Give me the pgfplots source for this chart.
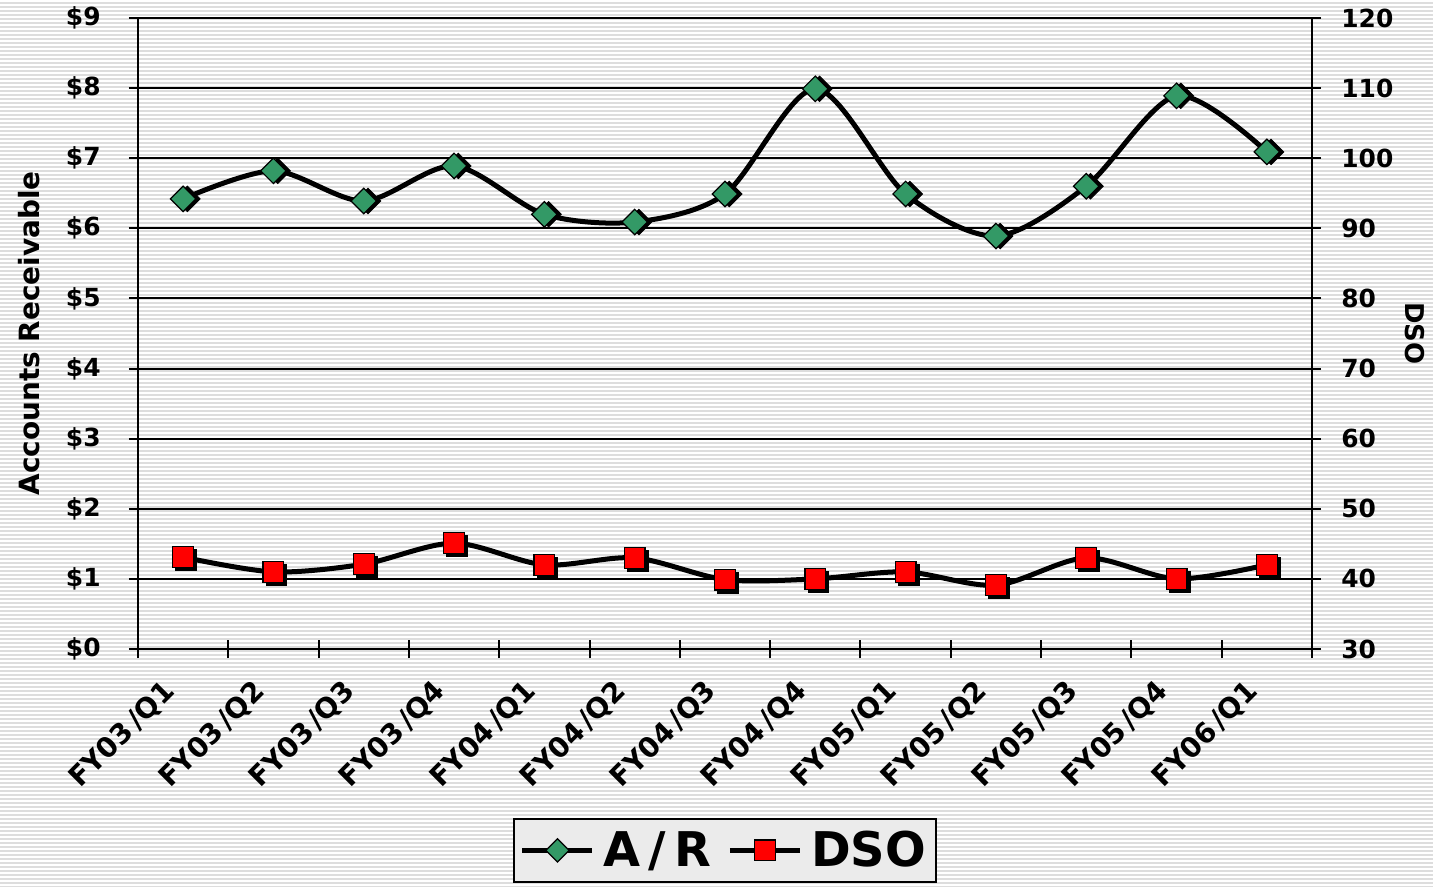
\documentclass[border=0pt]{standalone}
\usepackage{fontspec}
\setmainfont{DejaVu Sans}
\usepackage{pgfplots}
\pgfplotsset{compat=1.18}
\usetikzlibrary{patterns.meta}
\definecolor{argreen}{HTML}{339966}
\definecolor{stripe}{HTML}{DDDDDD}
\definecolor{leggray}{HTML}{EBEBEB}

\pgfplotstableread{
x ar dso
0 6.42 43.1
1 6.82 41.0
2 6.39 42.1
3 6.89 45.1
4 6.20 42.0
5 6.09 43.0
6 6.49 39.9
7 7.99 40.0
8 6.49 41.0
9 5.89 39.1
10 6.60 43.0
11 7.89 40.0
12 7.09 42.0
}\datatable

\newcommand{\qsl}{\kern2bp/}
\begin{document}
\begin{tikzpicture}
\fill[white] (-69bp,-119bp) rectangle (647.5bp,324.5bp);
\fill[pattern={Lines[angle=0,distance=2bp,line width=0.9bp]}, pattern color=stripe] (-69bp,-119bp) rectangle (647.5bp,324.5bp);
\begin{axis}[
  name=ax,
  scale only axis, width=587bp, height=315.5bp,
  at={(0,0)}, anchor=south west,
  xmin=-0.5, xmax=12.5, ymin=0, ymax=9,
  axis y line*=left, axis x line*=bottom,
  axis line style={black, line width=1bp},
  tick align=center,
  xtick={0,...,12},
  xticklabels={FY03\qsl Q1,FY03\qsl Q2,FY03\qsl Q3,FY03\qsl Q4,FY04\qsl Q1,FY04\qsl Q2,FY04\qsl Q3,FY04\qsl Q4,FY05\qsl Q1,FY05\qsl Q2,FY05\qsl Q3,FY05\qsl Q4,FY06\qsl Q1},
  minor xtick={-0.5,0.5,...,12.5},
  major x tick style={draw=none},
  minor x tick style={black, line width=1bp},
  minor tick length=9bp,
  major tick length=9bp,
  y tick style={black, line width=1bp},
  ytick={0,...,9},
  yticklabels={\$0,\$1,\$2,\$3,\$4,\$5,\$6,\$7,\$8,\$9},
  ymajorgrids, grid style={black, line width=1bp},
  xticklabel style={xshift=-11bp, yshift=-10bp, rotate=45, anchor=north east, inner sep=0pt, font=\fontsize{14}{16}\selectfont\bfseries},
  yticklabel style={anchor=east, inner sep=0pt, xshift=-14bp, font=\fontsize{12.5}{14}\selectfont\bfseries},
  every axis y label/.style={at={(axis description cs:-0.093,0.5)}, anchor=center, rotate=90, font=\fontsize{14}{16}\selectfont\bfseries},
  ylabel={Accounts Receivable},
  legend style={at={(0.5,-0.268)}, anchor=north, legend columns=2, fill=leggray, draw=black, line width=1bp,
    font=\fontsize{24}{28}\selectfont\bfseries, inner xsep=3bp, inner ysep=4bp,
    /tikz/every even column/.append style={column sep=6bp}},
  legend image code/.code={\draw[mark repeat=2,mark phase=2] plot coordinates {(0bp,0bp)(17.5bp,0bp)(35bp,0bp)};},
]
\addplot[black, line width=2.5bp, smooth, no markers, forget plot] table[x=x,y=ar]{\datatable};
\addplot[only marks, mark=square*, mark size=4.5bp, mark options={rotate=45, fill=black, draw=black, xshift=1.5bp, yshift=-1.5bp}, forget plot] table[x=x,y=ar]{\datatable};
\addplot[only marks, mark=square*, mark size=4.5bp, mark options={rotate=45, fill=argreen, draw=black, line width=0.6bp}, forget plot] table[x=x,y=ar]{\datatable};
\addlegendimage{black, line width=2.5bp, mark=square*, mark size=4.1bp, mark options={rotate=45, fill=argreen, draw=black, line width=0.6bp}}
\addlegendentry{\hspace{2.5bp}A\kern4bp/\kern4bp R}
\addlegendimage{black, line width=2.5bp, mark=square*, mark size=5.2bp, mark options={fill=red, draw=black, line width=0.6bp}}
\addlegendentry{\hspace{2.5bp}DSO\hspace{3bp}}
\end{axis}
\begin{axis}[
  scale only axis, width=587bp, height=315.5bp,
  at={(0,0)}, anchor=south west,
  xmin=-0.5, xmax=12.5, ymin=30, ymax=120,
  axis y line*=right, axis x line=none,
  axis line style={black, line width=1bp},
  tick align=center, major tick length=9bp,
  y tick style={black, line width=1bp},
  ytick={30,40,...,120},
  yticklabels={30,40,50,60,70,80,90,100,110,120},
  yticklabel style={anchor=west, inner sep=0pt, xshift=10bp, font=\fontsize{12.5}{14}\selectfont\bfseries},
  every axis y label/.style={at={(axis description cs:1.0877,0.5)}, anchor=center, rotate=-90, font=\fontsize{13}{15}\selectfont\bfseries},
  ylabel={DSO},
]
\addplot[black, line width=2.5bp, smooth, no markers] table[x=x,y=dso]{\datatable};
\addplot[only marks, mark=square*, mark size=5.2bp, mark options={fill=black, draw=black, xshift=1.5bp, yshift=-1.5bp}] table[x=x,y=dso]{\datatable};
\addplot[only marks, mark=square*, mark size=5.2bp, mark options={fill=red, draw=black, line width=0.6bp}] table[x=x,y=dso]{\datatable};
\end{axis}
\pgfresetboundingbox
\path[use as bounding box] (-69bp,-119bp) rectangle (647.5bp,324.5bp);
\end{tikzpicture}
\end{document}
